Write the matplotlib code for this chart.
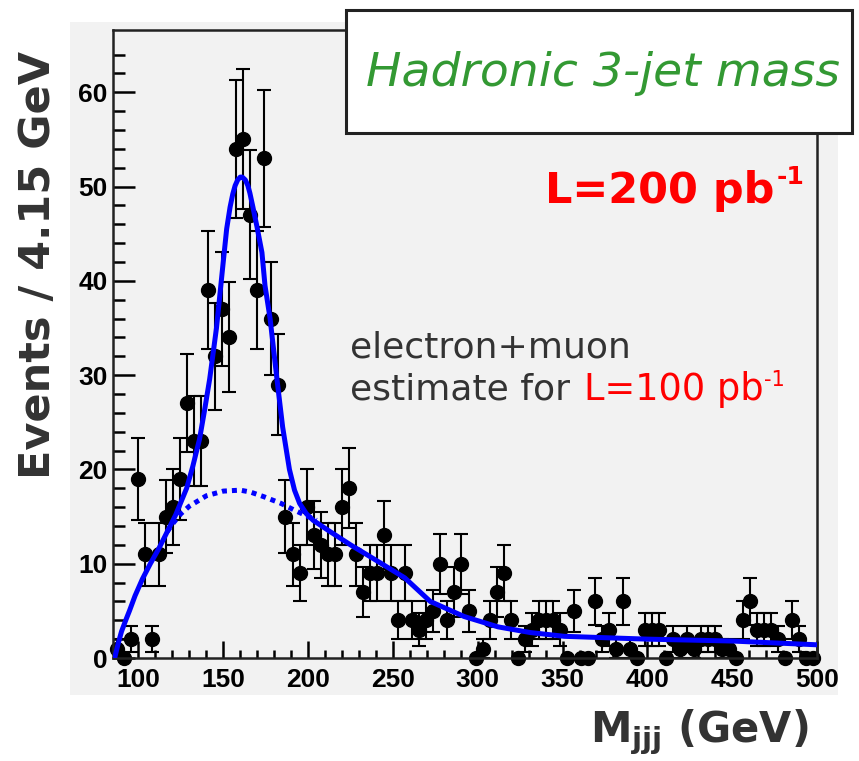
import matplotlib
matplotlib.use("Agg")
from matplotlib import pyplot as plt
from matplotlib.patches import Rectangle
import numpy as np

# histogram: 100 bins of 4.15 GeV starting at 85 GeV
bin_lo = 85.0
bin_width = 4.15
counts = [1, 0, 2, 19, 11, 2, 11, 15, 16, 19,
          27, 23, 23, 39, 32, 37, 34, 54, 55, 47,
          39, 53, 36, 29, 15, 11, 9, 16, 13, 12,
          11, 11, 16, 18, 11, 7, 9, 9, 13, 9,
          4, 9, 4, 3, 4, 5, 10, 4, 7, 10,
          5, 0, 1, 4, 7, 9, 4, 0, 2, 3,
          4, 4, 4, 3, 0, 5, 0, 0, 6, 2,
          3, 1, 6, 1, 0, 3, 3, 3, 0, 2,
          1, 2, 1, 2, 2, 2, 1, 1, 0, 4,
          6, 3, 3, 3, 2, 0, 4, 2, 0, 0]

# total fit (signal + background)
fit_x = [86, 88, 90, 92.5, 94.7, 98, 102.4, 107, 112, 117, 122, 128.4, 132, 136, 139, 142,
         146, 149.7, 152, 154, 155.6, 157, 158.5, 160, 161.2, 163, 164.5, 165.7,
         167.5, 169.8, 172.8, 174.6, 177.6, 181.7, 185, 189, 192, 195, 199, 203,
         208, 213, 225, 237, 257, 272, 292, 312, 331, 351, 400, 450, 500]
fit_y = [0, 1.5, 2.8, 4.0, 5.0, 6.6, 8.4, 10, 11.6, 13.4, 15.2, 18, 20.3, 23.2, 26.3, 29.6,
         35, 41.5, 45.5, 47.8, 49.2, 50.1, 50.7, 51, 51, 50.7, 50.1, 49.3,
         47.8, 45.8, 43, 39.5, 36, 29.5, 24.5, 20, 17.8, 16.4, 15.3, 14.6,
         14.0, 13.4, 12, 10.7, 8.5, 6, 4.4, 3.3, 2.7, 2.3, 2.0, 1.8, 1.4]

# background component (dotted), visible where it leaves the total
bkg_x = [117, 120, 125, 130, 140, 150, 160, 166, 174, 184, 191.7, 200, 205]
bkg_y = [13.4, 14.2, 15.3, 16.1, 17.2, 17.7, 17.8, 17.6, 17.1, 16.4, 15.7, 15.0, 14.6]

x_ticks = [100, 150, 200, 250, 300, 350, 400, 450, 500]
y_ticks = [0, 10, 20, 30, 40, 50, 60]

W, H = 859, 761
fig = plt.figure(figsize=(W / 100, H / 100), dpi=100)
fig.patch.set_facecolor("white")
renderer = fig.canvas.get_renderer()

def fx(px):
    return px / W

def fy(py):
    return 1 - py / H

canvas_bg = "#f2f2f2"
fig.patches.append(Rectangle((fx(70), fy(695)), fx(838) - fx(70), fy(22) - fy(695),
                             transform=fig.transFigure, facecolor=canvas_bg,
                             edgecolor="none", zorder=-5))

ax = fig.add_axes([fx(113), fy(658), fx(817) - fx(113), fy(30) - fy(658)])
ax.set_facecolor(canvas_bg)
ax.set_xlim(85, 500)
ax.set_ylim(0, 66.6)

centers = bin_lo + bin_width * (np.arange(len(counts)) + 0.5)
counts = np.array(counts)
nz = counts > 0
ax.errorbar(centers[nz], counts[nz], yerr=np.sqrt(counts[nz]), fmt="none",
            ecolor="black", elinewidth=1.5, capsize=5, capthick=1.5, zorder=2)
ax.plot(centers, counts, "o", color="black", markersize=10, zorder=2, clip_on=False)

ax.plot(bkg_x, bkg_y, color="#0000ff", linewidth=3.6, linestyle=(0, (1, 1)), zorder=3)
ax.plot(fit_x, fit_y, color="#0000ff", linewidth=3.6, zorder=4,
        solid_joinstyle="round")

for s in ax.spines.values():
    s.set_linewidth(1.8)
    s.set_color("#222222")

ax.set_xticks(x_ticks)
ax.set_xticks(np.arange(90, 500, 10), minor=True)
ax.set_yticks(y_ticks)
ax.set_yticks(np.arange(0, 66, 2), minor=True)
ax.tick_params(axis="y", which="major", direction="in", length=16, width=1.8,
               pad=4, right=False)
ax.tick_params(axis="y", which="minor", direction="in", length=8.5, width=1.8, right=False)
ax.tick_params(axis="x", which="major", direction="in", length=12, width=1.8,
               pad=7, top=False)
ax.tick_params(axis="x", which="minor", direction="in", length=6, width=1.8, top=False)
for lab in ax.get_xticklabels() + ax.get_yticklabels():
    lab.set_fontfamily("Liberation Sans")
    lab.set_fontweight("bold")
    lab.set_fontsize(19)

# title box
fig.patches.append(Rectangle((fx(346), fy(133)), fx(852) - fx(346), fy(10) - fy(133),
                             transform=fig.transFigure, facecolor="white",
                             edgecolor="#222222", linewidth=2.2, zorder=5))
fig.text(fx(603), fy(74), "Hadronic 3-jet mass", color="#339933", fontsize=34,
         fontstyle="italic", ha="center", va="center", zorder=6)

# luminosity, bold red with small superscript
red = "#ff0000"
lum = fig.text(fx(545), fy(203), "L=200 pb", color=red, fontsize=31,
               fontweight="bold", va="baseline")
bb = lum.get_window_extent(renderer)
fig.text(bb.x1 / W + fx(2), fy(184), "-1", color=red, fontsize=18,
         fontweight="bold", va="baseline")

txt_gray = "#333333"
fig.text(fx(350), fy(358), "electron+muon", color=txt_gray, fontsize=26, va="baseline")
t1 = fig.text(fx(350), fy(400), "estimate for ", color=txt_gray, fontsize=26, va="baseline")
bb = t1.get_window_extent(renderer)
t2 = fig.text(bb.x1 / W + fx(2), fy(400), "L=100 pb", color=red, fontsize=26.5,
              va="baseline")
bb = t2.get_window_extent(renderer)
fig.text(bb.x1 / W + fx(1), fy(386), "-1", color=red, fontsize=15, va="baseline")

fig.text(fx(38), fy(265), "Events / 4.15 GeV", color=txt_gray, fontsize=31,
         fontweight="bold", rotation=90, ha="center", va="center")
fig.text(fx(699), fy(732), r"M$_{\mathbf{jjj}}$ (GeV)", color=txt_gray, fontsize=30,
         fontweight="bold", ha="center", va="center")

fig.savefig("out.png", dpi=100)
